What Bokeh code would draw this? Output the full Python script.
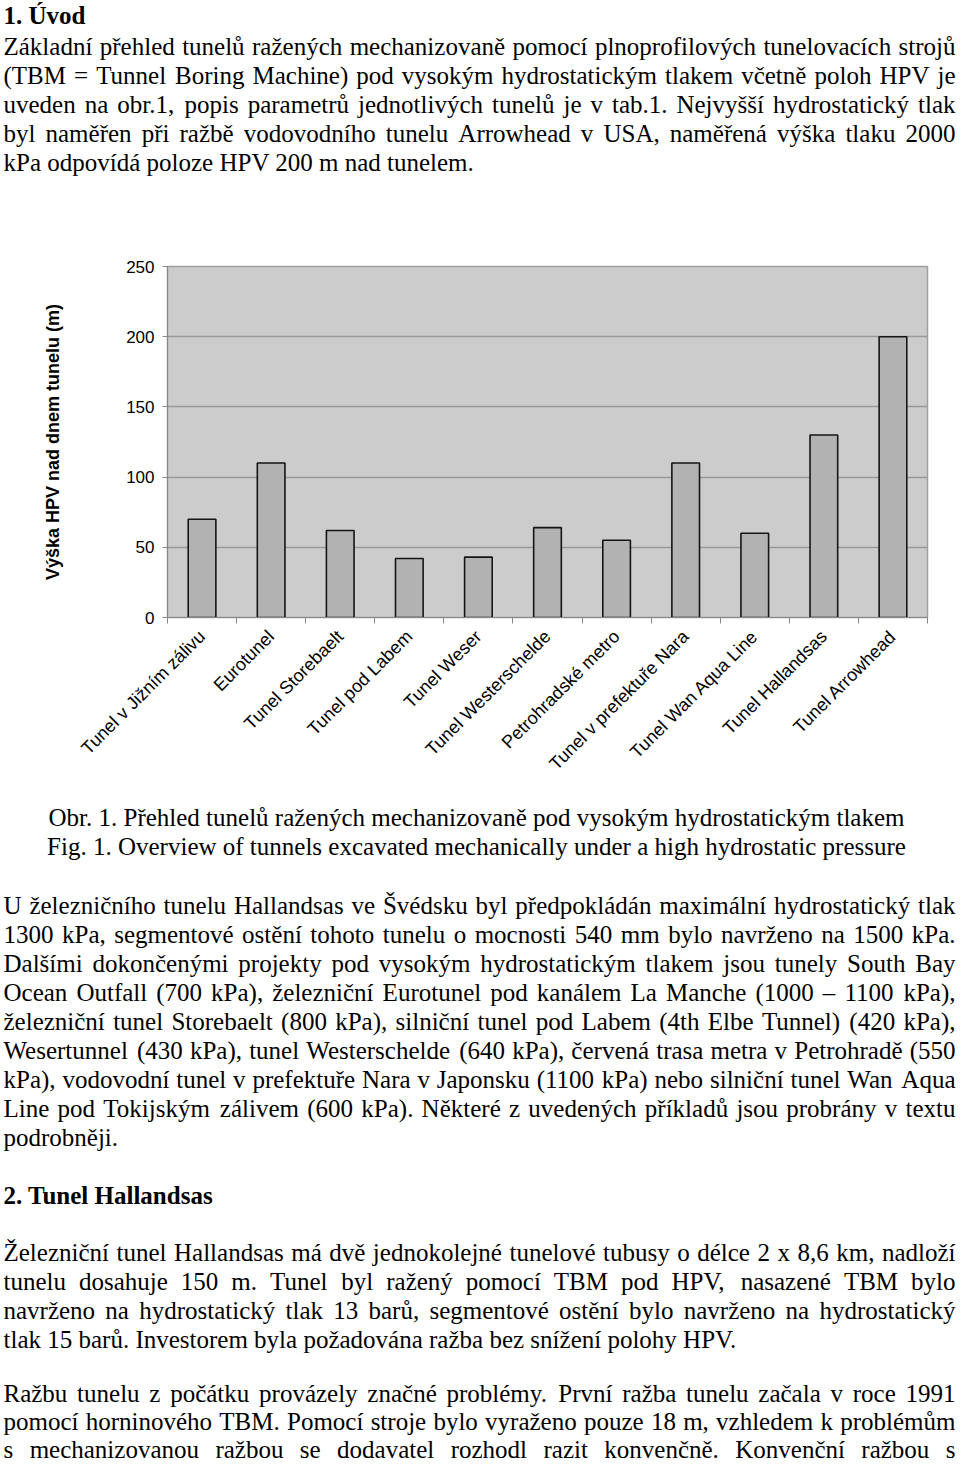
import math
import unicodedata
from bokeh.plotting import figure
from bokeh.layouts import column
from bokeh.models import Range1d, FixedTicker, ColumnDataSource
from bokeh.core.properties import value
from bokeh.embed import file_html
from bokeh.resources import INLINE

# ---------------- chart data ----------------
tunnels = ["Tunel v Jižním zálivu", "Eurotunel", "Tunel Storebaelt", "Tunel pod Labem",
           "Tunel Weser", "Tunel Westerschelde", "Petrohradské metro",
           "Tunel v prefektuře Nara", "Tunel Wan Aqua Line", "Tunel Hallandsas",
           "Tunel Arrowhead"]
heights_m = [70, 110, 62, 42, 43, 64, 55, 110, 60, 130, 200]
y_ticks = [0, 50, 100, 150, 200, 250]
y_title = "Výška HPV nad dnem tunelu (m)"

# ---------------- page text ----------------
heading1 = "1. Úvod"
para1 = [
    "Základní přehled tunelů ražených mechanizovaně pomocí plnoprofilových tunelovacích strojů",
    "(TBM = Tunnel Boring Machine) pod vysokým hydrostatickým tlakem včetně poloh HPV je",
    "uveden na obr.1, popis parametrů jednotlivých tunelů je v tab.1. Nejvyšší hydrostatický tlak",
    "byl naměřen při ražbě vodovodního tunelu Arrowhead v USA, naměřená výška tlaku 2000",
    "kPa odpovídá poloze HPV 200 m nad tunelem.",
]
caption = [
    "Obr. 1. Přehled tunelů ražených mechanizovaně pod vysokým hydrostatickým tlakem",
    "Fig. 1. Overview of tunnels excavated mechanically under a high hydrostatic pressure",
]
para2 = [
    "U železničního tunelu Hallandsas ve Švédsku byl předpokládán maximální hydrostatický tlak",
    "1300 kPa, segmentové ostění tohoto tunelu o mocnosti 540 mm bylo navrženo na 1500 kPa.",
    "Dalšími dokončenými projekty pod vysokým hydrostatickým tlakem jsou tunely South Bay",
    "Ocean Outfall (700 kPa), železniční Eurotunel pod kanálem La Manche (1000 – 1100 kPa),",
    "železniční tunel Storebaelt (800 kPa), silniční tunel pod Labem (4th Elbe Tunnel) (420 kPa),",
    "Wesertunnel (430 kPa), tunel Westerschelde (640 kPa), červená trasa metra v Petrohradě (550",
    "kPa), vodovodní tunel v prefektuře Nara v Japonsku (1100 kPa) nebo silniční tunel Wan Aqua",
    "Line pod Tokijským zálivem (600 kPa). Některé z uvedených příkladů jsou probrány v textu",
    "podrobněji.",
]
heading2 = "2. Tunel Hallandsas"
para3 = [
    "Železniční tunel Hallandsas má dvě jednokolejné tunelové tubusy o délce 2 x 8,6 km, nadloží",
    "tunelu dosahuje 150 m. Tunel byl ražený pomocí TBM pod HPV, nasazené TBM bylo",
    "navrženo na hydrostatický tlak 13 barů, segmentové ostění bylo navrženo na hydrostatický",
    "tlak 15 barů. Investorem byla požadována ražba bez snížení polohy HPV.",
]
para4 = [
    "Ražbu tunelu z počátku provázely značné problémy. První ražba tunelu začala v roce 1991",
    "pomocí horninového TBM. Pomocí stroje bylo vyraženo pouze 18 m, vzhledem k problémům",
    "s mechanizovanou ražbou se dodavatel rozhodl razit konvenčně. Konvenční ražbou s",
]

# approximate Times advance widths (1/1000 em) for justification
TW = {' ': 250, 'a': 444, 'b': 500, 'c': 444, 'd': 500, 'e': 444, 'f': 333, 'g': 500, 'h': 500,
      'i': 278, 'j': 278, 'k': 500, 'l': 278, 'm': 778, 'n': 500, 'o': 500, 'p': 500, 'q': 500,
      'r': 333, 's': 389, 't': 278, 'u': 500, 'v': 500, 'w': 722, 'x': 500, 'y': 500, 'z': 444,
      'A': 722, 'B': 667, 'C': 667, 'D': 722, 'E': 611, 'F': 556, 'G': 722, 'H': 722, 'I': 333,
      'J': 389, 'K': 722, 'L': 611, 'M': 889, 'N': 722, 'O': 722, 'P': 556, 'Q': 722, 'R': 667,
      'S': 556, 'T': 611, 'U': 722, 'V': 722, 'W': 944, 'X': 722, 'Y': 722, 'Z': 611,
      '.': 250, ',': 250, '(': 333, ')': 333, '=': 564, '–': 500, '-': 333, ':': 278}


def em(s):
    tot = 0
    for ch in s:
        base = unicodedata.normalize('NFD', ch)[0]
        tot += TW.get(base, 500)
    return tot / 1000.0


PAGE_W = 960
X0 = 3          # left edge of the text block
TEXT_W = 952    # width of the justified text block
justified = para1[:-1] + para2[:-1] + para3[:-1] + para4
fs = 25.0
max_em = max(em(l) for l in justified)
if max_em * fs > TEXT_W:
    fs = TEXT_W / max_em * 0.995
FS = "%.2fpx" % fs
SERIF = value("Liberation Serif")
SANS_NAME = "Liberation Sans"


def text_fig(h):
    f = figure(width=PAGE_W, height=h, x_range=Range1d(0, PAGE_W), y_range=Range1d(h, 0),
               output_backend="svg", toolbar_location=None, tools="",
               x_axis_location=None, y_axis_location=None, min_border=0,
               frame_align=False)
    f.grid.visible = False
    f.outline_line_color = None
    f.background_fill_color = "white"
    f.border_fill_color = "white"
    return f


def add_paragraph(f, lines, ys, last_justified=False):
    xs, yy, tt = [], [], []
    for i, (line, y) in enumerate(zip(lines, ys)):
        words = line.split(" ")
        if i == len(lines) - 1 and not last_justified:
            xs.append(X0); yy.append(y); tt.append(line)
            continue
        widths = [em(w) * fs for w in words]
        gap = (TEXT_W - sum(widths)) / (len(words) - 1)
        x = float(X0)
        for w, wd in zip(words, widths):
            xs.append(x); yy.append(y); tt.append(w)
            x += wd + gap
    f.text(x="x", y="y", text="t", source=ColumnDataSource(dict(x=xs, y=yy, t=tt)),
           text_font=SERIF, text_font_size=value(FS), text_baseline="middle",
           text_align="left", text_color="black")


# ---------------- top text (page y 0..250) ----------------
top = text_fig(250)
top.text(x=[X0], y=[15], text=[heading1], text_font=SERIF, text_font_size=value(FS),
         text_font_style="bold", text_baseline="middle", text_color="black")
add_paragraph(top, para1, [46 + 29 * i for i in range(len(para1))])

# ---------------- chart (page y 250..795) ----------------
p = figure(width=PAGE_W, height=545, x_range=Range1d(0, len(tunnels)), y_range=Range1d(0, 250),
           output_backend="svg", toolbar_location=None, tools="", frame_align=False,
           min_border_left=167, min_border_right=33, min_border_top=16, min_border_bottom=178)
p.background_fill_color = "#cccccc"
p.border_fill_color = "white"
p.outline_line_color = "#a0a0a0"
p.outline_line_width = 1.5

centers = [i + 0.5 for i in range(len(tunnels))]
p.vbar(x=centers, top=heights_m, width=0.4, bottom=0,
       fill_color="#b2b2b2", line_color="#151515", line_width=1.6)

p.xgrid.visible = False
p.ygrid.ticker = FixedTicker(ticks=y_ticks)
p.ygrid.grid_line_color = "#999999"
p.ygrid.grid_line_width = 1.5

p.yaxis.ticker = FixedTicker(ticks=y_ticks)
p.yaxis.axis_line_color = "#888888"
p.yaxis.major_tick_line_color = "#888888"
p.yaxis.major_tick_out = 5
p.yaxis.major_tick_in = 0
p.yaxis.minor_tick_line_color = None
p.yaxis.major_label_standoff = 8
p.yaxis.major_label_text_font = SANS_NAME
p.yaxis.major_label_text_font_size = "17px"
p.yaxis.major_label_text_color = "black"
p.yaxis.axis_label = y_title
p.yaxis.axis_label_text_font = SANS_NAME
p.yaxis.axis_label_text_font_size = "18px"
p.yaxis.axis_label_text_font_style = "bold"
p.yaxis.axis_label_text_color = "black"
p.yaxis.axis_label_standoff = 60

p.xaxis.ticker = FixedTicker(ticks=centers, minor_ticks=list(range(len(tunnels) + 1)))
p.xaxis.major_label_overrides = {c: name for c, name in zip(centers, tunnels)}
p.xaxis.major_label_orientation = math.pi / 4
p.xaxis.axis_line_color = "#888888"
p.xaxis.major_tick_line_color = None
p.xaxis.major_tick_out = 0
p.xaxis.major_tick_in = 0
p.xaxis.minor_tick_line_color = "#888888"
p.xaxis.minor_tick_out = 6
p.xaxis.minor_tick_in = 0
p.xaxis.major_label_standoff = 10
p.xaxis.major_label_text_font = SANS_NAME
p.xaxis.major_label_text_font_size = "18px"
p.xaxis.major_label_text_color = "black"

# ---------------- bottom text (page y 795..1464) ----------------
bot = text_fig(669)
bot.text(x=[476, 476], y=[22, 51], text=caption, text_font=SERIF, text_font_size=value(FS),
         text_baseline="middle", text_align="center", text_color="black")
add_paragraph(bot, para2, [110 + 29 * i for i in range(len(para2))])
bot.text(x=[X0], y=[400], text=[heading2], text_font=SERIF, text_font_size=value(FS),
         text_font_style="bold", text_baseline="middle", text_color="black")
add_paragraph(bot, para3, [457 + 29 * i for i in range(len(para3))])
add_paragraph(bot, para4, [598 + 28 * i for i in range(len(para4))], last_justified=True)

page = column(top, p, bot, spacing=0)
open("out.html", "w").write(file_html(page, INLINE, title="Obr. 1"))
print("font size", FS)
